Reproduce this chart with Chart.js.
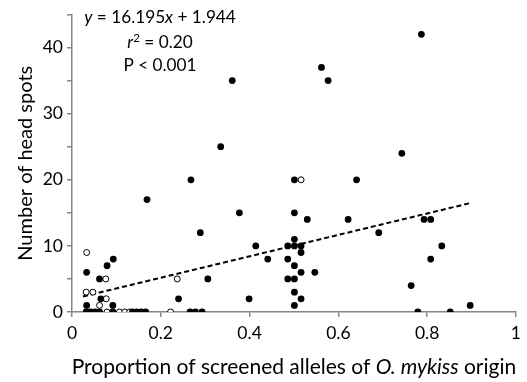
<!DOCTYPE html>
<html>
<head>
<meta charset="utf-8">
<script src="https://cdn.jsdelivr.net/npm/chart.js@4/dist/chart.umd.min.js"></script>
<style>
  html, body { margin: 0; padding: 0; background: #ffffff; }
  #wrap { width: 527px; height: 382px; position: relative; }
</style>
</head>
<body>
<div id="wrap"><canvas id="c" width="527" height="382"></canvas></div>
<script>
// ---- data ----
const filledX = [0.033, 0.079, 0.093, 0.062, 0.065, 0.033, 0.092, 0.169,
  0.032, 0.042, 0.052, 0.062, 0.092, 0.136, 0.146, 0.156, 0.166, 0.266, 0.278, 0.293, 0.779, 0.852,
  0.240, 0.268, 0.289, 0.306, 0.335, 0.361, 0.377, 0.399, 0.414, 0.441,
  0.486, 0.486, 0.486, 0.501, 0.501, 0.501, 0.501, 0.501, 0.501, 0.501, 0.501,
  0.516, 0.516, 0.516, 0.516, 0.530, 0.547, 0.562, 0.577, 0.622, 0.641, 0.691,
  0.743, 0.764, 0.787, 0.793, 0.808, 0.833, 0.808, 0.897];
const filledY = [6, 7, 8, 5, 2, 1, 1, 17,
  0, 0, 0, 0, 0, 0, 0, 0, 0, 0, 0, 0, 0, 0,
  2, 20, 12, 5, 25, 35, 15, 2, 10, 8,
  10, 8, 5, 20, 15, 11, 10, 7, 5, 3, 1,
  10, 9, 6, 2, 14, 6, 37, 35, 14, 20, 12,
  24, 4, 42, 14, 14, 10, 8, 1];
const openX = [0.033, 0.076, 0.032, 0.047, 0.077, 0.062, 0.237, 0.516,
  0.079, 0.107, 0.119, 0.130, 0.222];
const openY = [9, 5, 3, 3, 2, 1, 5, 20,
  0, 0, 0, 0, 0];
const trendX = [0.025, 0.9];
const trendY = [2.35, 16.52];
const xTickValues = [0, 0.2, 0.4, 0.6, 0.8, 1];
const yLabelValues = [0, 10, 20, 30, 40];

const FONT = 'Lato';
const AXIS_COLOR = '#868686';

function pts(xs, ys) { return xs.map((x, i) => ({ x: x, y: ys[i] })); }

function drawRich(ctx, parts, cx, baseline, size) {
  let total = 0;
  parts.forEach(p => {
    ctx.font = (p.italic ? 'italic ' : '') + (p.size || size) + 'px ' + FONT;
    p.w = ctx.measureText(p.t).width;
    total += p.w;
  });
  let x = cx - total / 2;
  parts.forEach(p => {
    ctx.font = (p.italic ? 'italic ' : '') + (p.size || size) + 'px ' + FONT;
    ctx.fillText(p.t, x, baseline + (p.dy || 0));
    x += p.w;
  });
}

const textPlugin = {
  id: 'textPlugin',
  afterDraw(chart) {
    const ctx = chart.ctx;
    ctx.save();
    ctx.fillStyle = '#000000';
    ctx.textBaseline = 'alphabetic';
    ctx.textAlign = 'left';
    const area = chart.chartArea;
    // annotation
    const cx = area.left + 88;
    drawRich(ctx, [{t: 'y', italic: true}, {t: ' = 16.195'}, {t: 'x', italic: true}, {t: ' + 1.944'}], cx, area.top + 8, 17.2);
    drawRich(ctx, [{t: 'r', italic: true}, {t: '2', size: 11.5, dy: -6}, {t: ' = 0.20'}], cx, area.top + 33, 17.2);
    drawRich(ctx, [{t: 'P < 0.001'}], cx, area.top + 56, 17.2);
    // x-axis title
    drawRich(ctx, [{t: 'Proportion of screened alleles of '}, {t: 'O. mykiss', italic: true}, {t: ' origin'}],
      (area.left + area.right) / 2, area.bottom + 62, 21);
    ctx.restore();
  }
};

new Chart(document.getElementById('c'), {
  type: 'scatter',
  data: {
    datasets: [
      {
        label: 'trend',
        type: 'line',
        data: pts(trendX, trendY),
        borderColor: '#000000',
        borderWidth: 2,
        borderDash: [5, 3],
        pointRadius: 0,
        fill: false,
        order: 3
      },
      {
        label: 'open',
        data: pts(openX, openY),
        pointRadius: 3,
        pointBackgroundColor: '#ffffff',
        pointBorderColor: '#000000',
        pointBorderWidth: 1,
        order: 2
      },
      {
        label: 'filled',
        data: pts(filledX, filledY),
        pointRadius: 3.4,
        pointBackgroundColor: '#000000',
        pointBorderColor: '#000000',
        pointBorderWidth: 0,
        order: 1
      }
    ]
  },
  options: {
    responsive: false,
    animation: false,
    events: [],
    layout: { padding: { left: 0, right: 11, top: 14, bottom: 0 } },
    plugins: { legend: { display: false }, tooltip: { enabled: false } },
    scales: {
      x: {
        type: 'linear',
        min: 0, max: 1,
        afterFit(scale) { scale.height = 70; },
        afterBuildTicks(scale) { scale.ticks = xTickValues.map(v => ({ value: v })); },
        border: { display: true, color: AXIS_COLOR, width: 1.5 },
        grid: { display: true, drawOnChartArea: false, drawTicks: true, tickLength: 5, color: AXIS_COLOR, tickColor: AXIS_COLOR, lineWidth: 1.5 },
        ticks: { color: '#000000', font: { family: FONT, size: 17.5 }, padding: 6, maxRotation: 0,
          callback: v => String(v) }
      },
      y: {
        type: 'linear',
        min: 0, max: 45,
        afterFit(scale) { scale.width = 72; },
        ticks: { stepSize: 5, color: '#000000', font: { family: FONT, size: 17.5 }, padding: 4,
          callback: v => (yLabelValues.includes(v) ? String(v) : '') },
        border: { display: true, color: AXIS_COLOR, width: 1.5 },
        grid: { display: true, drawOnChartArea: false, drawTicks: true, tickLength: 5, color: AXIS_COLOR, tickColor: AXIS_COLOR, lineWidth: 1.5 },
        title: { display: true, text: 'Number of head spots', color: '#000000', font: { family: FONT, size: 20 }, padding: { top: 14, bottom: 0 } }
      }
    }
  },
  plugins: [textPlugin]
});
</script>
</body>
</html>
